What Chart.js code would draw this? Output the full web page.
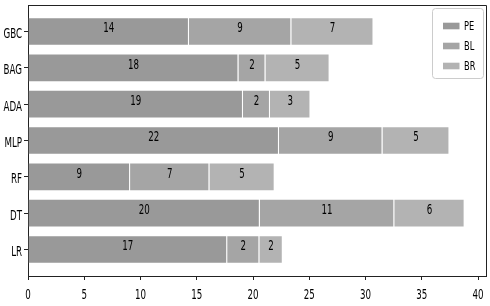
<!DOCTYPE html>
<html>
<head>
<meta charset="utf-8">
<script src="https://cdn.jsdelivr.net/npm/chart.js@4.4.0/dist/chart.umd.min.js"></script>
<style>
  html, body { margin: 0; padding: 0; background: #ffffff; }
  #c { display: block; }
</style>
</head>
<body>
<canvas id="c" width="490" height="306"></canvas>
<script>
// ---- data (bottom to top) ----
const categories = ['LR', 'DT', 'RF', 'MLP', 'ADA', 'BAG', 'GBC'];
const seriesNames = ['PE', 'BL', 'BR'];
const peValues = [17.7, 20.6, 9.07, 22.3, 19.1, 18.7, 14.3];
const blValues = [2.86, 11.95, 7.05, 9.2, 2.4, 2.4, 9.1];
const brValues = [2.08, 6.25, 5.8, 5.95, 3.6, 5.7, 7.3];
const xTickValues = [0, 5, 10, 15, 20, 25, 30, 35, 40];

const seriesColors = ['#999999', '#a5a5a5', '#b3b3b3'];
const FONT = '"DejaVu Sans", sans-serif';
const SQUISH = 0.62;
const AXIS_COLOR = '#222222';

function squishText(ctx, text, x, y, align, size, factor) {
  ctx.save();
  ctx.font = size + 'px ' + FONT;
  ctx.fillStyle = '#000000';
  ctx.textBaseline = 'alphabetic';
  ctx.textAlign = align;
  ctx.translate(x, y);
  ctx.scale(factor, 1);
  ctx.fillText(text, 0, 0);
  ctx.restore();
}

const seriesData = [peValues, blValues, brValues];
const datasets = seriesData.map((vals, s) => ({
  label: seriesNames[s],
  data: vals.map((v, i) => ({ x: v, y: i })),
  backgroundColor: seriesColors[s],
  borderColor: 'rgba(255,255,255,0.18)',
  borderWidth: 1,
  barPercentage: 0.79,
  categoryPercentage: 1.0
}));

const framePlugin = {
  id: 'frame',
  afterDraw(chart) {
    const ctx = chart.ctx;
    const a = chart.chartArea;
    ctx.save();
    ctx.strokeStyle = AXIS_COLOR;
    ctx.lineWidth = 1;
    ctx.beginPath();
    ctx.moveTo(a.left, a.top + 0.5);
    ctx.lineTo(a.right + 0.5, a.top + 0.5);
    ctx.lineTo(a.right + 0.5, a.bottom);
    ctx.stroke();
    ctx.restore();

    // tick labels from the library scales
    const xs = chart.scales.x, ys = chart.scales.y;
    xs.ticks.forEach(t => {
      squishText(ctx, String(t.value), xs.getPixelForValue(t.value), a.bottom + 23, 'center', 14, SQUISH);
    });
    ys.ticks.forEach(t => {
      squishText(ctx, categories[t.value], a.left - 6, ys.getPixelForValue(t.value) + 6.5, 'right', 14, SQUISH);
    });

    // legend
    const lx = a.right - 54, ly = a.top + 3, lw = 51, lh = 70;
    ctx.save();
    ctx.fillStyle = 'rgba(255,255,255,0.85)';
    ctx.strokeStyle = '#cccccc';
    ctx.lineWidth = 1;
    ctx.beginPath();
    ctx.roundRect(lx + 0.5, ly + 0.5, lw, lh, 3);
    ctx.fill();
    ctx.stroke();
    ctx.restore();
    chart.data.datasets.forEach((ds, i) => {
      const cy = ly + 18 + i * 20;
      ctx.fillStyle = ds.backgroundColor;
      ctx.fillRect(lx + 11, cy - 3.3, 16.5, 6.6);
      squishText(ctx, ds.label, lx + 32, cy + 4, 'left', 11.5, 0.72);
    });
  }
};

const labelPlugin = {
  id: 'barLabels',
  afterDatasetsDraw(chart) {
    const ctx = chart.ctx;
    chart.data.datasets.forEach((ds, di) => {
      const meta = chart.getDatasetMeta(di);
      meta.data.forEach((el, i) => {
        const v = ds.data[i].x;
        const cx = (el.x + el.base) / 2;
        squishText(ctx, String(Math.trunc(v)), cx, el.y + 0.8, 'center', 14, SQUISH);
      });
    });
  }
};

new Chart(document.getElementById('c'), {
  type: 'bar',
  data: { datasets },
  options: {
    indexAxis: 'y',
    responsive: false,
    animation: false,
    devicePixelRatio: 1,
    layout: { padding: { top: 5, right: 4, left: 0, bottom: 0 } },
    plugins: { legend: { display: false }, tooltip: { enabled: false } },
    scales: {
      x: {
        type: 'linear',
        stacked: true,
        min: 0,
        max: 40.7,
        afterBuildTicks: s => { s.ticks = xTickValues.map(v => ({ value: v })); },
        afterFit: s => { s.height = 30; },
        ticks: { display: false },
        grid: { display: true, drawOnChartArea: false, drawTicks: true, tickLength: 4, color: AXIS_COLOR, lineWidth: 1 },
        border: { display: true, color: AXIS_COLOR, width: 1 }
      },
      y: {
        type: 'linear',
        stacked: true,
        offset: false,
        min: -0.73,
        max: 6.73,
        afterBuildTicks: s => { s.ticks = categories.map((_, i) => ({ value: i })); },
        afterFit: s => { s.width = 28; },
        ticks: { display: false },
        grid: { display: true, offset: false, drawOnChartArea: false, drawTicks: true, tickLength: 4, color: AXIS_COLOR, lineWidth: 1 },
        border: { display: true, color: AXIS_COLOR, width: 1 }
      }
    }
  },
  plugins: [labelPlugin, framePlugin]
});
</script>
</body>
</html>
